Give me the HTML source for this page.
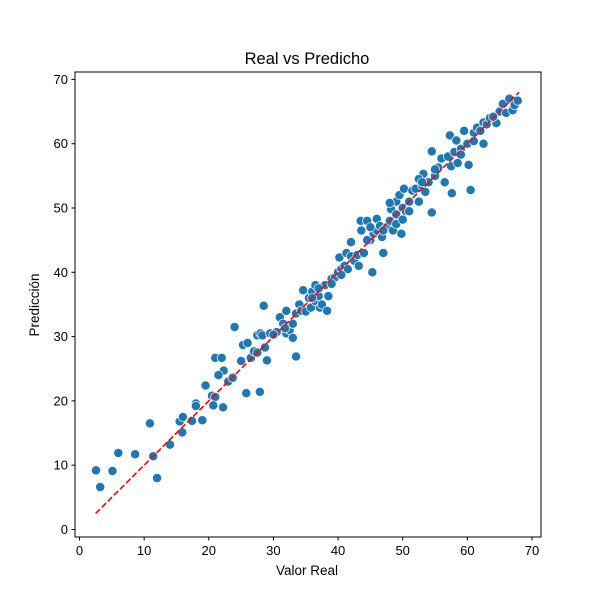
<!DOCTYPE html>
<html><head><meta charset="utf-8"><style>
body{margin:0;background:#fff}
svg{display:block;font-family:"Liberation Sans","DejaVu Sans",sans-serif}
</style></head><body>
<svg id="chart" width="600" height="600">
<rect x="0" y="0" width="600" height="600" fill="#fff"/>
<text x="307" y="64" font-size="16.5" text-anchor="middle">Real vs Predicho</text>
<text x="307" y="575" font-size="13.5" text-anchor="middle">Valor Real</text>
<text x="0" y="0" font-size="13.5" text-anchor="middle" transform="translate(39,305) rotate(-90)">Predicción</text>
<g id="xt"></g>
<g id="yt"></g>
<g id="pts"></g>
<g id="ln"></g>
<rect x="75" y="72" width="466" height="465" fill="none" stroke="#000" stroke-width="1"/>
</svg>
<script>
const xTicks=[0,10,20,30,40,50,60,70];
const yTicks=[0,10,20,30,40,50,60,70];
const realVals=[2.55,3.2,5.1,6.0,8.6,10.9,11.4,12.0,14.0,15.5,16.0,15.9,17.4,18.0,18.0,19.0,19.5,20.5,21,20.7,22.2,25.8,27.9,
21,22,22.3,21.5,23,23.7,24,25,25.3,26,26.5,27,27.5,28,28.5,28.3,28.7,29,29.5,30.5,31,31.5,32,32,32.5,33,33,33.5,33.5,34,34.3,34.6,35,35.5,35.8,36,36.5,36.5,37,37.2,37.5,38,38.3,38.5,39,39.5,40,40.2,40.5,41,41.3,41.5,42,42,42.5,43,43.2,43.5,43.6,44,44.5,45,45.3,45.5,46,46,46.5,47,47.5,48,48.2,48.5,49,49,49.5,49.8,50,50.2,50.5,51,51.5,52,52.5,53,53.2,53.5,54,54.5,54.5,55,55.5,56,56.5,57,57.3,57.5,57.6,58,58.3,58.5,59,59.5,60,60.2,60.5,61,61.5,62,62.5,62.5,63,63.5,64.5,65,65.5,66,66.5,67,67.3,67.8,30,31.8,27.5,36,37,39,40.5,44.5,46.8,49,51,52.5,55,59,61,64,53,48,45,47,50];
const predVals=[9.2,6.6,9.1,11.9,11.7,16.5,11.4,8.0,13.2,16.8,17.5,15.1,16.9,19.6,19.2,17.0,22.4,20.8,20.6,19.3,19.0,21.2,21.4,
26.7,26.7,24.7,24,23,23.6,31.5,26.2,28.7,29,26.7,27.7,30.2,30.5,34.8,30.2,28.3,26.3,30.5,30.7,33,32,34,30.5,31,32,29.8,26.9,33.6,35,34,37.2,33.9,36,34.5,37,38,35.5,36.3,34.5,35,38,34,36.3,39,39.2,40,42.3,40.5,41,43,40.5,42.5,44.7,41.8,42.7,41,48,46.5,43,48,45,40,46,46.5,48.3,47.2,43,47,48,49.8,46.5,51,47.5,52,46,50,53,49.5,51,52.7,53,51,53.5,55.3,52.5,54,58.8,49.3,55,56.3,57.7,54,58,61.3,56.5,52.3,58.7,60.5,57,59.2,62,60,56.7,52.8,61.7,62.5,62,60,63.3,63,64,63.2,65,66.2,64.8,67,65.2,66,66.7,30.3,31.3,27.5,36,37.5,38.2,39.6,45,45.5,49,49.5,54.5,56,58.3,60.4,64.2,54,50.8,47,46.5,48.2];
const lineX=[2.5,68];
const NS="http://www.w3.org/2000/svg";
const sx=v=>79.5+v*6.464, sy=v=>529.5-v*6.43;
function mk(t,a,p){const e=document.createElementNS(NS,t);for(const k in a)e.setAttribute(k,a[k]);p.appendChild(e);return e;}
const xt=document.getElementById('xt'),yt=document.getElementById('yt');
xTicks.forEach(v=>{const l=mk('line',{x1:sx(v),x2:sx(v),y1:537,y2:540.5,stroke:'#000'},xt);


const t=mk('text',{x:sx(v),y:555,'font-size':'13','text-anchor':'middle'},xt);t.textContent=v;

});
yTicks.forEach(v=>{const l=mk('line',{x1:71.5,x2:75,y1:sy(v),y2:sy(v),stroke:'#000'},yt);


const t=mk('text',{x:68,y:sy(v)+4.5,'font-size':'13','text-anchor':'end'},yt);t.textContent=v;

});
const pts=document.getElementById('pts');
realVals.forEach((v,i)=>{const c=mk('circle',{cx:sx(v),cy:sy(predVals[i]),r:4.6,fill:'#1f77b4',stroke:'#fff','stroke-width':0.7},pts);

});
const ln=mk('line',{x1:sx(lineX[0]),y1:sy(lineX[0]),x2:sx(lineX[1]),y2:sy(lineX[1]),stroke:'#ff0000','stroke-width':1.6,'stroke-dasharray':'6,2.6'},document.getElementById('ln'));


</script>
</body></html>
